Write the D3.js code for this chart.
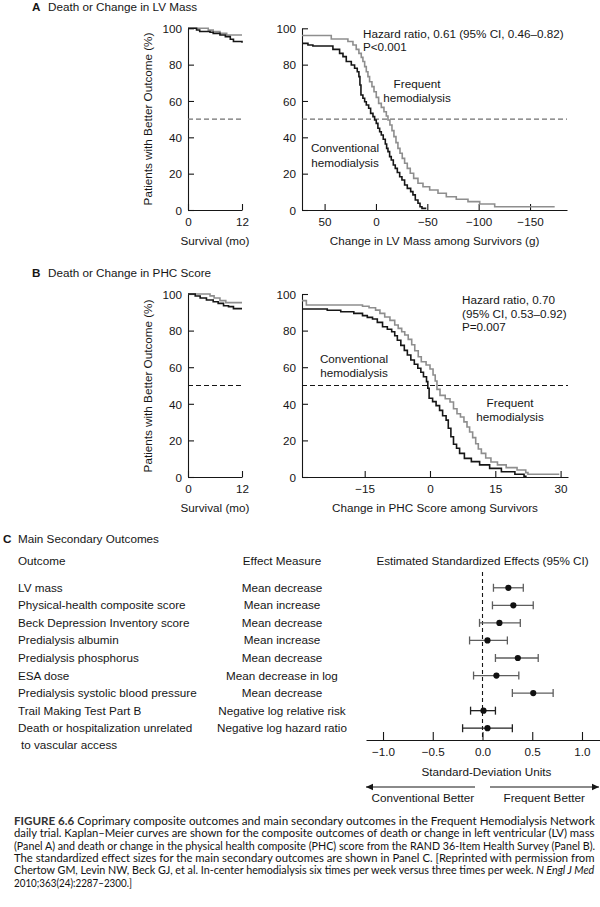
<!DOCTYPE html>
<html><head><meta charset="utf-8">
<script src="https://cdn.jsdelivr.net/npm/d3@7"></script>
<style>
body{margin:0;background:#fff}
svg text{font-family:"Liberation Sans",Arial,Helvetica,sans-serif;}
</style>
</head><body>
<svg id="c" width="600" height="907" viewBox="0 0 600 907"></svg>
<script>
// ---------------- DATA ----------------
// Panel A: death (survival, months) [time, %]
const lvSurvFrequent = [[0,100],[4.5,99],[5.6,98.2],[7.1,97.2],[8.6,96.3],[12,96.3]];
const lvSurvConventional = [[0,100],[1.9,99.1],[2.6,98.2],[4.9,97.8],[5.6,97.2],[7.1,96.3],[8.3,95.4],[9.4,94],[10.1,92.7],[12,92.1]];
// Panel A: change in LV mass among survivors (g) [value, %]
const lvMassFrequent = [[72,96],[43.5,94.1],[27.3,92.7],[22.4,90.8],[19.2,88.4],[16.6,86.2],[14.3,84],[12.7,81.7],[11,78.9],[9.4,76.1],[7.8,73.4],[6.2,70.6],[3.9,67.9],[1.9,65.1],[-0.3,62],[-2.6,58.7],[-5.2,56.5],[-7.8,54.1],[-10.1,51.7],[-11.7,49.5],[-13.6,46.8],[-15.6,43.7],[-17.5,40.4],[-19.5,37.1],[-21.4,33.9],[-23.4,31.2],[-25.6,28.4],[-27.9,25.7],[-30.5,22.9],[-33.4,20.2],[-36.7,17.4],[-40.9,14.7],[-45.8,12.8],[-52.3,11],[-60.4,9.2],[-68.5,7.3],[-78.2,5.9],[-89.6,4.6],[-101,3.3],[-115.6,1.8],[-174,1.8]];
const lvMassConventional = [[72,91.7],[66.2,90.8],[61.4,90.3],[41.9,88.4],[35.4,86.2],[32.1,84.4],[28.9,81.7],[24,79.8],[20.8,78],[18.2,76.1],[16.6,73.4],[15.6,68.8],[14.6,63.3],[12.7,61.5],[11,59.6],[9.4,57.8],[7.1,56],[5.2,53.2],[2.9,51.4],[1.3,49.5],[-0.3,47.7],[-1.9,45],[-3.6,43.1],[-5.2,41.3],[-7.1,38.9],[-9.1,36.3],[-10.4,33.9],[-11.7,32.1],[-13.3,29.4],[-14.9,27.5],[-16.9,24.8],[-18.8,22.9],[-20.8,20.6],[-23.1,18.3],[-25.3,16.5],[-27.9,13.8],[-30.5,11.9],[-33.8,10.1],[-36,8.3],[-38.3,5.5],[-40.9,3.7],[-42.9,1.8],[-44.8,0.9],[-49,0.9]];
// Panel B: death (survival, months)
const phcSurvFrequent = [[0,100],[4.9,99],[5.8,97.8],[7.1,96.4],[8.4,95.3],[12,95.3]];
const phcSurvConventional = [[0,100],[1.6,98.9],[2.7,97.8],[4.1,96.7],[5.6,95.8],[6.7,94.9],[7.9,93.6],[9,93.1],[10.1,92],[12,92]];
// Panel B: change in PHC score among survivors
const phcFrequent = [[-29.4,96.4],[-28.4,94],[-15.5,93.3],[-14,92.5],[-12.5,91.2],[-11.5,89.4],[-10.4,87.4],[-9.2,85.6],[-8.1,83.1],[-7.3,81.2],[-6.5,79.4],[-5.8,77.6],[-5,75.2],[-4.2,72.3],[-3.5,69],[-2.7,65.7],[-2,63],[-0.9,61.2],[0,59],[0.7,55.7],[1.2,52.5],[1.6,47.9],[2.3,44.6],[3.5,42.8],[4.6,41],[5.4,37.3],[6.2,34.6],[7,32.8],[7.8,30.1],[8.5,27.3],[9.1,24.6],[9.8,21.5],[10.5,18.2],[11.1,15.3],[11.8,12.9],[12.8,10.4],[14,8.2],[15.5,6.6],[17.5,5.1],[20,3.8],[22,2.4],[22.5,1.5],[29.7,1.5]];
const phcConventional = [[-29.4,91.8],[-23.6,91.1],[-20.5,90.3],[-17.5,89.4],[-15.5,88.2],[-14.4,87.2],[-13.2,86.3],[-12.1,84.5],[-10.9,82.1],[-9.8,80.7],[-8.8,79.4],[-8.1,77.2],[-7.5,74.7],[-6.7,71.9],[-5.9,69.2],[-5.2,66.7],[-4.4,63.9],[-3.6,61.6],[-2.8,59.4],[-2.1,57.2],[-1.5,54.8],[-0.8,52.1],[-0.5,48.5],[-0.2,43],[0.6,41.2],[1.4,39],[2.2,36.4],[2.9,33.5],[3.7,31.1],[4.2,26.6],[4.8,22],[5.4,17.9],[6.1,15.7],[6.8,12.9],[7.9,10.2],[9.5,8.4],[11.4,6.6],[13.7,4.7],[16.4,2.9],[19.5,1.5],[21.6,0.4],[22.2,0.4]];

// Tick values
const pctTicks = [0,20,40,60,80,100];
const survTicks = [0,12];
const lvMassTicks = [50,0,-50,-100,-150];
const phcTicks = [-15,0,15,30];
const sdTicks = [-1.0,-0.5,0.0,0.5,1.0];

// Panel C
const outcomes = ["LV mass","Physical-health composite score","Beck Depression Inventory score","Predialysis albumin","Predialysis phosphorus","ESA dose","Predialysis systolic blood pressure","Trail Making Test Part B","Death or hospitalization unrelated\nto vascular access"];
const effectMeasures = ["Mean decrease","Mean increase","Mean decrease","Mean increase","Mean decrease","Mean decrease in log","Mean decrease","Negative log relative risk","Negative log hazard ratio"];
const estimates = [0.26,0.31,0.17,0.05,0.355,0.14,0.51,0.01,0.05];
const ciLow =     [0.11,0.10,-0.03,-0.13,0.13,-0.09,0.30,-0.12,-0.20];
const ciHigh =    [0.41,0.51,0.38,0.25,0.56,0.365,0.71,0.13,0.30];

const captionLines = [
 ["FIGURE 6.6"," Coprimary composite outcomes and main secondary outcomes in the Frequent Hemodialysis Network",""],
 ["","daily trial. Kaplan–Meier curves are shown for the composite outcomes of death or change in left ventricular (LV) mass",""],
 ["","(Panel A) and death or change in the physical health composite (PHC) score from the RAND 36-Item Health Survey (Panel B).",""],
 ["","The standardized effect sizes for the main secondary outcomes are shown in Panel C. [Reprinted with permission from",""],
 ["","Chertow GM, Levin NW, Beck GJ, et al. In-center hemodialysis six times per week versus three times per week. ","N Engl J Med"],
 ["","2010;363(24):2287–2300.]",""]
];

// ---------------- DRAWING ----------------
const svg = d3.select("#c");
const FS = 11.7;
const INK = "#161616", GREY = "#8e8e8e";

function label(x,y,s,anchor="start",extra={}){
  const t = svg.append("text").attr("x",x).attr("y",y).attr("font-size",extra.size||FS)
    .attr("fill",extra.fill||INK).attr("text-anchor",anchor).text(s);
  if(extra.weight) t.attr("font-weight",extra.weight);
  return t;
}

function styleAxis(g){
  g.attr("font-family",null).attr("font-size",null);
  g.select(".domain").attr("stroke",INK).attr("stroke-width",1.1);
  g.selectAll(".tick line").attr("stroke",INK).attr("stroke-width",1.1);
  g.selectAll(".tick text").attr("fill",INK).attr("font-size",FS);
}

function kmPanel(cfg){
  const x = d3.scaleLinear().domain(cfg.xDomain).range(cfg.xRange);
  const y = d3.scaleLinear().domain([0,100]).range(cfg.yRange);
  const gy = svg.append("g").attr("transform",`translate(${cfg.xRange[0]},0)`)
    .call(d3.axisLeft(y).tickValues(pctTicks).tickSize(-6).tickSizeOuter(0).tickPadding(6));
  styleAxis(gy);
  gy.selectAll(".tick text").attr("dy","0.36em");
  const gx = svg.append("g").attr("transform",`translate(0,${y(0)})`)
    .call(d3.axisBottom(x).tickValues(cfg.ticks).tickSize(-6).tickSizeOuter(0).tickFormat(d3.format("d")));
  styleAxis(gx);
  gx.selectAll(".tick text").attr("y",16).attr("dy",0);
  svg.append("line").attr("x1",cfg.xRange[0]).attr("x2",cfg.xRange[1])
    .attr("y1",y(50)).attr("y2",y(50)).attr("stroke",cfg.dashColor)
    .attr("stroke-width",1.1).attr("stroke-dasharray","5,3");
  const line = d3.line().x(d=>x(d[0])).y(d=>y(d[1])).curve(d3.curveStepAfter);
  svg.append("path").datum(cfg.grey).attr("d",line).attr("fill","none")
    .attr("stroke",GREY).attr("stroke-width",1.6);
  svg.append("path").datum(cfg.black).attr("d",line).attr("fill","none")
    .attr("stroke",INK).attr("stroke-width",1.6);
  label((cfg.xRange[0]+cfg.xRange[1])/2, y(0)+35, cfg.xTitle, "middle");
  return {x,y};
}

// Panel A
label(32,11,"A","start",{weight:"bold"});
label(48,11,"Death or Change in LV Mass");
kmPanel({xDomain:[0,12],xRange:[188,242],yRange:[210,28.3],ticks:survTicks,
  grey:lvSurvFrequent,black:lvSurvConventional,dashColor:"#707070",xTitle:"Survival (mo)"});
kmPanel({xDomain:[72,-186],xRange:[302,567],yRange:[210,28.3],ticks:lvMassTicks,
  grey:lvMassFrequent,black:lvMassConventional,dashColor:"#707070",
  xTitle:"Change in LV Mass among Survivors (g)"});
svg.append("text").attr("transform","translate(152,119) rotate(-90)")
  .attr("text-anchor","middle").attr("font-size",FS).attr("fill",INK)
  .text("Patients with Better Outcome (%)");
label(363,37.5,"Hazard ratio, 0.61 (95% CI, 0.46–0.82)");
label(363,50.5,"P<0.001");
label(417,88,"Frequent","middle");
label(417,102,"hemodialysis","middle");
label(345,152,"Conventional","middle");
label(345,166.5,"hemodialysis","middle");

// Panel B
label(32,277,"B","start",{weight:"bold"});
label(48,277,"Death or Change in PHC Score");
kmPanel({xDomain:[0,12],xRange:[188,242],yRange:[477,294],ticks:survTicks,
  grey:phcSurvFrequent,black:phcSurvConventional,dashColor:"#161616",xTitle:"Survival (mo)"});
kmPanel({xDomain:[-29.4,31.7],xRange:[302,568],yRange:[477,294],ticks:phcTicks,
  grey:phcFrequent,black:phcConventional,dashColor:"#161616",
  xTitle:"Change in PHC Score among Survivors"});
svg.append("text").attr("transform","translate(152,386) rotate(-90)")
  .attr("text-anchor","middle").attr("font-size",FS).attr("fill",INK)
  .text("Patients with Better Outcome (%)");
label(462,304,"Hazard ratio, 0.70");
label(462,317.5,"(95% CI, 0.53–0.92)");
label(462,331,"P=0.007");
label(354,363,"Conventional","middle");
label(354,377,"hemodialysis","middle");
label(510,407,"Frequent","middle");
label(510,421,"hemodialysis","middle");

// Panel C
label(3,543,"C","start",{weight:"bold"});
label(18,543,"Main Secondary Outcomes");
label(18,564.5,"Outcome");
label(282,564.5,"Effect Measure","middle");
const xF = d3.scaleLinear().domain([-1.171,1.181]).range([366,600]);
const rowY = d3.scaleBand().domain(d3.range(outcomes.length)).range([579,737]);
const rc = i => rowY(i)+rowY.bandwidth()/2;
label(xF(0),565,"Estimated Standardized Effects (95% CI)","middle");

outcomes.forEach((o,i)=>{
  const parts = o.split("\n");
  parts.forEach((p,j)=> label(j===0?18:21, rc(i)+4+j*16.5, p));
  label(282, rc(i)+4, effectMeasures[i], "middle");
});

const axisY = 740;
svg.append("line").attr("x1",xF(0)).attr("x2",xF(0)).attr("y1",572).attr("y2",axisY)
  .attr("stroke",INK).attr("stroke-width",1.1).attr("stroke-dasharray","4,3");

const barCol = i => i>=7 ? "#222" : "#5e5e5e";
const fg = svg.append("g");
outcomes.forEach((o,i)=>{
  const yy = rc(i);
  fg.append("line").attr("x1",xF(ciLow[i])).attr("x2",xF(ciHigh[i])).attr("y1",yy).attr("y2",yy)
    .attr("stroke",barCol(i)).attr("stroke-width",1.3);
  [ciLow[i],ciHigh[i]].forEach(v=>fg.append("line").attr("x1",xF(v)).attr("x2",xF(v))
    .attr("y1",yy-4).attr("y2",yy+4).attr("stroke",barCol(i)).attr("stroke-width",1.3));
  fg.append("circle").attr("cx",xF(estimates[i])).attr("cy",yy).attr("r",3.1).attr("fill","#111");
});

const gF = svg.append("g").attr("transform",`translate(0,${axisY})`)
  .call(d3.axisBottom(xF).tickValues(sdTicks).tickSize(-8).tickSizeOuter(0).tickFormat(d3.format(".1f")));
styleAxis(gF);
gF.selectAll(".tick text").attr("y",15.5).attr("dy",0);
label(xF(0.04),775.5,"Standard-Deviation Units","middle");

function arrow(xStart,xEnd,yy){
  svg.append("line").attr("x1",xStart).attr("x2",xEnd).attr("y1",yy).attr("y2",yy)
    .attr("stroke",INK).attr("stroke-width",1.1);
  const dir = Math.sign(xEnd-xStart);
  svg.append("path").attr("d",`M${xEnd},${yy} L${xEnd-dir*7},${yy-3.2} L${xEnd-dir*7},${yy+3.2} Z`).attr("fill",INK);
}
arrow(xF(-0.075),xF(-1.171),787);
arrow(xF(0.075),xF(1.181)-1,787);
label(xF(-0.6),802,"Conventional Better","middle");
label(xF(0.62),802,"Frequent Better","middle");

// Caption (condensed by horizontal scaling, justified lines)
const capLeft = 14, capRight = 595, capTop = 825, capStep = 12.3;
captionLines.forEach((ln,i)=>{
  const t = svg.append("text").attr("x",0).attr("y",0)
    .attr("font-size",11.3).attr("fill","#111")
    .style("font-family","Lato,'Open Sans',sans-serif");
  if(ln[0]) t.append("tspan").attr("font-weight","bold").attr("fill","#333").text(ln[0]);
  t.append("tspan").text(ln[1]);
  if(ln[2]) t.append("tspan").attr("font-style","italic").text(ln[2]);
  const natural = t.node().getComputedTextLength();
  const target = i < captionLines.length-1 ? capRight-capLeft : 118;
  t.attr("transform",`translate(${capLeft},${capTop+i*capStep}) scale(${target/natural},1)`);
});
</script>
</body></html>
